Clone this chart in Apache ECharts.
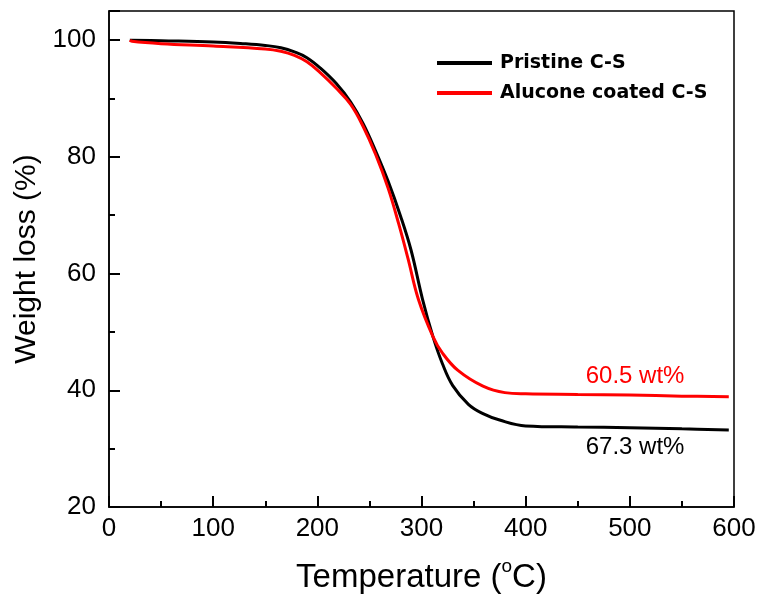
<!DOCTYPE html>
<html>
<head>
<meta charset="utf-8">
<script src="https://cdn.jsdelivr.net/npm/echarts@6/dist/echarts.min.js"></script>
<style>
  html, body { margin: 0; padding: 0; background: #fff; }
  #chartDom { width: 760px; height: 599px; }
</style>
</head>
<body>
<div id="chartDom"></div>
<script>
// TGA curves
var seriesNames = ['Pristine C-S', 'Alucone coated C-S'];

var tempPristine = [20, 50, 100, 130, 150, 165, 178, 190, 203, 218, 232, 244, 256, 268, 280, 290, 301, 311, 320, 330, 345, 359, 375, 400, 450, 500, 550, 595];
var weightPristine = [100, 99.9, 99.7, 99.4, 99.1, 98.7, 98.0, 97.0, 95.2, 92.6, 89.4, 85.7, 81.0, 75.8, 69.8, 64.0, 55.6, 49.2, 44.6, 40.8, 37.6, 36.0, 34.9, 33.9, 33.7, 33.6, 33.4, 33.2];

var tempCoated = [20, 22, 50, 100, 150, 165, 178, 190, 203, 218, 232, 244, 256, 268, 278, 287, 297, 311, 320, 335, 359, 380, 400, 450, 500, 550, 595];
var weightCoated = [100, 99.8, 99.4, 99.0, 98.5, 98.1, 97.4, 96.3, 94.4, 91.8, 89.0, 85.2, 80.4, 74.6, 68.6, 62.6, 55.6, 49.2, 46.4, 43.4, 40.7, 39.6, 39.4, 39.3, 39.2, 39.0, 38.9];

var notes = ['60.5 wt%', '67.3 wt%'];
var noteAt = [[505, 42.3], [505, 30.3]];

function zip(xs, ys) {
    return xs.map(function (x, i) { return [x, ys[i]]; });
}

var chartDom = document.getElementById('chartDom');
var myChart = echarts.init(chartDom, null, { renderer: 'canvas' });

var FONT = 'Liberation Sans, Arial';

var option = {
    backgroundColor: '#fff',
    animation: false,
    grid: {
        left: 109, right: 26, top: 11, bottom: 91,
        show: true, borderColor: '#000', borderWidth: 1.5
    },
    legend: {
        orient: 'vertical',
        left: 437,
        top: 52,
        padding: 0,
        icon: 'rect',
        itemWidth: 55,
        itemHeight: 4,
        itemGap: 8,
        data: seriesNames,
        textStyle: {
            color: '#000', fontSize: 19, fontWeight: 'bold',
            fontFamily: 'DejaVu Sans', lineHeight: 22,
            padding: [0, 0, 0, 3]
        }
    },
    xAxis: [{
        type: 'value',
        min: 0, max: 600, interval: 100,
        axisLine: { show: true, lineStyle: { color: '#000', width: 1.5 } },
        axisTick: { show: true, inside: true, length: 11, lineStyle: { color: '#000', width: 2 } },
        minorTick: { show: true, splitNumber: 2, length: 6, lineStyle: { color: '#000', width: 2 } },
        splitLine: { show: false },
        axisLabel: { color: '#000', fontSize: 26, fontFamily: FONT, margin: 9 },
        nameLocation: 'middle',
        name: 'Temperature ({sup|o}C)',
        nameGap: 50,
        nameTextStyle: {
            color: '#000', fontSize: 33, fontFamily: FONT,
            rich: {
                sup: { fontSize: 19, fontFamily: FONT, color: '#000', verticalAlign: 'top', padding: [0, 0, 22, 0] }
            }
        }
    }],
    yAxis: [{
        type: 'value',
        min: 20, max: 105, interval: 20,
        axisLine: { show: true, lineStyle: { color: '#000', width: 1.5 } },
        axisTick: { show: true, inside: true, length: 11, lineStyle: { color: '#000', width: 2 } },
        minorTick: { show: true, splitNumber: 2, length: 6, lineStyle: { color: '#000', width: 2 } },
        splitLine: { show: false },
        axisLabel: { color: '#000', fontSize: 26, fontFamily: FONT, margin: 13, showMaxLabel: false },
        nameLocation: 'middle',
        name: 'Weight loss (%)',
        nameGap: 66,
        nameTextStyle: { color: '#000', fontSize: 30, fontFamily: FONT }
    }],
    series: [
        {
            name: seriesNames[0],
            type: 'line',
            data: zip(tempPristine, weightPristine),
            smooth: 0.4,
            showSymbol: false,
            symbol: 'none',
            color: '#000',
            lineStyle: { color: '#000', width: 3 },
            z: 3,
            markPoint: {
                symbol: 'circle',
                symbolSize: 0,
                label: { show: true, color: '#000', fontSize: 24, fontFamily: FONT },
                data: [{ coord: noteAt[1], value: notes[1], label: { formatter: notes[1] } }]
            }
        },
        {
            name: seriesNames[1],
            type: 'line',
            data: zip(tempCoated, weightCoated),
            smooth: 0.4,
            showSymbol: false,
            symbol: 'none',
            color: '#ff0000',
            lineStyle: { color: '#ff0000', width: 3 },
            z: 4,
            markPoint: {
                symbol: 'circle',
                symbolSize: 0,
                label: { show: true, color: '#ff0000', fontSize: 24, fontFamily: FONT },
                data: [{ coord: noteAt[0], value: notes[0], label: { formatter: notes[0] } }]
            }
        }
    ]
};

myChart.setOption(option);
</script>
</body>
</html>
